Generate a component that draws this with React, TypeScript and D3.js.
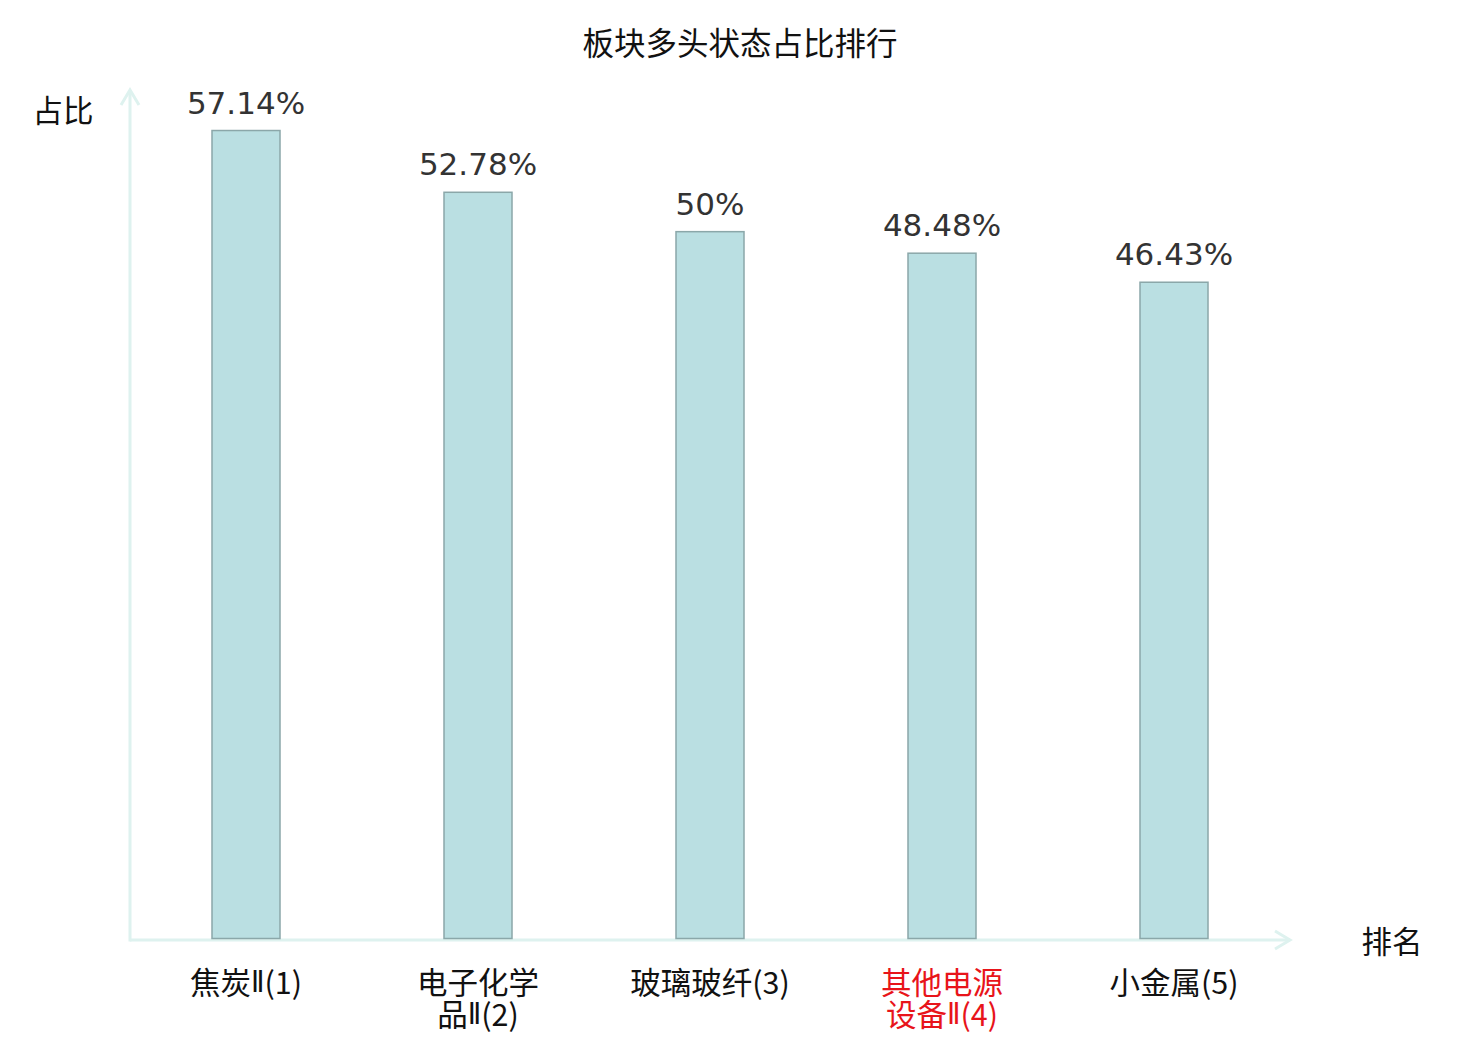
import React from 'react';
import * as d3 from 'd3';

const categories = ['焦炭Ⅱ(1)', '电子化学品Ⅱ(2)', '玻璃玻纤(3)', '其他电源设备Ⅱ(4)', '小金属(5)'];
const labelLines = [['焦炭Ⅱ(1)'], ['电子化学', '品Ⅱ(2)'], ['玻璃玻纤(3)'], ['其他电源', '设备Ⅱ(4)'], ['小金属(5)']];
const values = [57.14, 52.78, 50, 48.48, 46.43];
const valueLabels = ['57.14%', '52.78%', '50%', '48.48%', '46.43%'];
const highlighted = ['其他电源设备Ⅱ(4)'];

const W = 1480;
const H = 1040;
const left = 130;
const right = 1290;
const top = 90;
const bottom = 940;

const CJK = '"Noto Sans CJK SC", "Noto Sans", sans-serif';

// the roman numeral Ⅱ is drawn narrow in the reference
function splitRoman(s: string) {
  const parts = s.split('Ⅱ');
  const out: React.ReactNode[] = [];
  parts.forEach((p, k) => {
    if (k > 0) out.push(<tspan key={'r' + k} style={{ fontFamily: '"DejaVu Sans Condensed", "DejaVu Sans", sans-serif', fontWeight: 300 }}>Ⅱ</tspan>);
    out.push(<tspan key={'p' + k}>{p}</tspan>);
  });
  return out;
}

export default function App() {
  const x = d3.scaleBand<string>().domain(categories).range([left, right]);
  const y = d3.scaleLinear().domain([0, 60]).range([bottom, top]);
  const barW = 68;
  const axisColor = '#def2ef';

  return (
    <svg width={W} height={H} style={{ position: 'absolute', left: 0, top: 0, background: '#fff' }}>
      <text x={740} y={41} textAnchor="middle" dominantBaseline="central"
        style={{ fontFamily: CJK, fontSize: 31.5, fill: '#111' }}>板块多头状态占比排行</text>

      {/* axes */}
      <line x1={left} x2={left} y1={bottom + 1.5} y2={top} stroke={axisColor} strokeWidth={3} />
      <polyline points={`${left - 9},${top + 15} ${left},${top} ${left + 9},${top + 15}`}
        fill="none" stroke={axisColor} strokeWidth={3} />
      <line x1={left} x2={right} y1={bottom} y2={bottom} stroke={axisColor} strokeWidth={3} />
      <polyline points={`${right - 15},${bottom - 9} ${right},${bottom} ${right - 15},${bottom + 9}`}
        fill="none" stroke={axisColor} strokeWidth={3} />

      <text x={63} y={109} textAnchor="middle" dominantBaseline="central"
        style={{ fontFamily: CJK, fontSize: 30.5, fill: '#111' }}>占比</text>
      <text x={1392} y={940} textAnchor="middle" dominantBaseline="central"
        style={{ fontFamily: CJK, fontSize: 30.5, fill: '#111' }}>排名</text>

      {categories.map((c, i) => {
        const cx = x(c)! + x.bandwidth() / 2;
        const yt = y(values[i]);
        const fill = highlighted.includes(c) ? '#e8141a' : '#111';
        return (
          <g key={c}>
            <rect x={cx - barW / 2} y={yt} width={barW} height={bottom - 1.5 - yt}
              fill="#badfe2" stroke="#8ba7a9" strokeWidth={1.5} />
            <text x={cx} y={yt - 28} textAnchor="middle" dominantBaseline="central"
              style={{ fontFamily: '"DejaVu Sans", sans-serif', fontSize: 31, fill: '#333' }}>{valueLabels[i]}</text>
            {labelLines[i].map((ln, j) => (
              <text key={j} x={cx} y={981 + j * 32} textAnchor="middle" dominantBaseline="central"
                style={{ fontFamily: CJK, fontSize: 30.5, fill }}>{splitRoman(ln)}</text>
            ))}
          </g>
        );
      })}
    </svg>
  );
}
